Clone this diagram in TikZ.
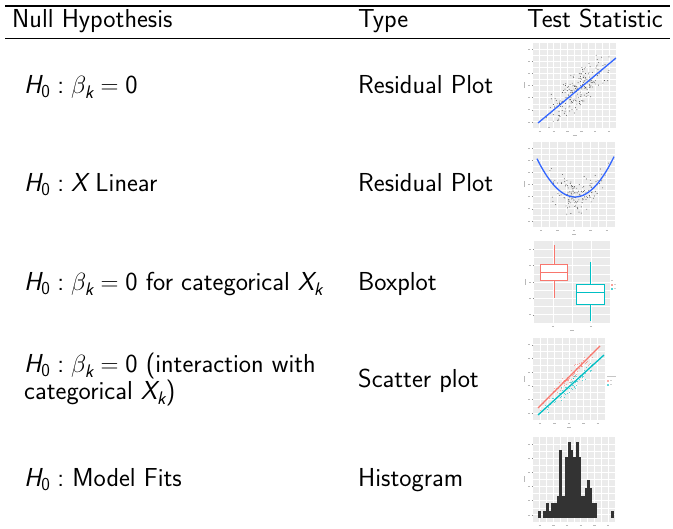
\documentclass[tikz,border=0pt]{standalone}
\usepackage{amsmath}
\usepackage{fontspec}
\begin{document}
\definecolor{panelgray}{HTML}{EBEBEB}
\definecolor{ggred}{HTML}{F8766D}
\definecolor{ggcyan}{HTML}{00BFC4}
\definecolor{ggblue}{HTML}{3366FF}
\definecolor{ggbar}{HTML}{333333}
\definecolor{axisgray}{HTML}{8A8A8A}
\newcommand\Hnull{\textit{H}_{\text{0}}\mathrel{\text{:}}}
\newcommand\bk{\beta_{\textit{k}}}
\newcommand\Xk{\textit{X}_{\textit{k}}}
% ggplot-style panel: #1 x0, #2 y0, #3 x1, #4 y1, #5 columns, #6 rows
\newcommand\ggpanel[6]{%
  \fill[panelgray] (#1,#2) rectangle (#3,#4);
  \pgfmathsetmacro\gdx{(#3-#1)/#5}
  \pgfmathsetmacro\gdy{(#4-#2)/#6}
  \foreach \k in {1,...,#5}{
    \draw[white,line width=0.4pt] ({#1+(\k-1)*\gdx+\gdx},#2) -- ++(0,{#4-#2});
    \draw[white,line width=0.9pt] ({#1+(\k-0.5)*\gdx},#2) -- ++(0,{#4-#2});
    \draw[axisgray,line width=0.5pt] ({#1+(\k-0.5)*\gdx},#4) -- ++(0,1.5);
    \draw[axisgray!60,line width=0.8pt] ({#1+(\k-0.5)*\gdx-1.2},{#4+3.5}) -- ++(2.4,0);
  }
  \foreach \k in {1,...,#6}{
    \draw[white,line width=0.4pt] (#1,{#2+(\k-1)*\gdy+\gdy}) -- ++({#3-#1},0);
    \draw[white,line width=0.9pt] (#1,{#2+(\k-0.5)*\gdy}) -- ++({#3-#1},0);
    \draw[axisgray,line width=0.5pt] (#1,{#2+(\k-0.5)*\gdy}) -- ++(-1.5,0);
    \draw[axisgray!60,line width=0.8pt] ({#1-5},{#2+(\k-0.5)*\gdy}) -- ++(2.4,0);
  }
  \draw[axisgray!60,line width=0.8pt] ({#1-9},{(#2+#4)/2-3}) -- ++(0,6);
  \draw[axisgray!60,line width=0.8pt] ({(#1+#3)/2-2},{#4+7}) -- ++(4,0);
}
\begin{tikzpicture}[x=1pt,y=-1pt,
  txt/.style={font=\sffamily\fontsize{26}{30}\selectfont,inner sep=0pt,anchor=base west},
  rulethick/.style={line width=1.3pt},
  rulethin/.style={line width=0.9pt},
  dot/.style={fill=black,opacity=0.75}]
\useasboundingbox (0,0) rectangle (673,529);

% table rules
\coordinate (tl) at (5,6);
\coordinate (tr) at (670,6);
\coordinate (ml) at (5,38);
\coordinate (mr) at (670,38);
\draw[rulethick] (tl) -- (tr);
\draw[rulethin] (ml) -- (mr);

% header
\node[txt] (h1) at (12,28) {Null Hypothesis};
\node[txt] (h2) at (358,28) {Type};
\node[txt] (h3) at (527,28) {Test Statistic};

% rows: hypotheses
\node[txt] (r1a) at (24,94) {$\Hnull \bk = \text{0}$};
\node[txt] (r2a) at (24,192) {$\Hnull \textit{X}$ Linear};
\node[txt] (r3a) at (24,291) {$\Hnull \bk = \text{0}$ for categorical $\Xk$};
\node[txt] (r4a) at (24,373) {$\Hnull \bk = \text{0}$ (interaction with};
\node[txt] (r4b) at (24,400) {categorical $\Xk$)};
\node[txt] (r5a) at (24,487) {$\Hnull$ Model Fits};

% rows: types
\node[txt] (r1b) at (358,94) {Residual Plot};
\node[txt] (r2b) at (358,192) {Residual Plot};
\node[txt] (r3b) at (358,291) {Boxplot};
\node[txt] (r4c) at (358,388) {Scatter plot};
\node[txt] (r5b) at (358,487) {Histogram};

% ---- plot 1: residuals vs predictor, linear trend
\ggpanel{533}{43}{616}{128}{6}{7}
\pgfmathsetseed{11}
\begin{scope}
\clip (533,43) rectangle (616,128);
\foreach \i in {1,...,200}{
  \pgfmathsetmacro\px{578+17*(rand+rand)}
  \pgfmathsetmacro\py{123-(\px-538)*0.83+19*(rand+rand)/1.6}
  \fill[dot] (\px,\py) circle (0.45);
}
\draw[ggblue,line width=1.3pt] (538,123) -- (616,58);
\end{scope}

% ---- plot 2: residuals vs predictor, curved trend
\ggpanel{533}{142}{615}{227}{5}{7}
\pgfmathsetseed{23}
\begin{scope}
\clip (533,142) rectangle (615,227);
\foreach \i in {1,...,140}{
  \pgfmathsetmacro\px{577+17*(rand+rand)}
  \pgfmathsetmacro\py{197-0.0265*(\px-575)^2+16*(rand+rand)/1.6}
  \fill[dot] (\px,\py) circle (0.45);
}
\draw[ggblue,line width=1.3pt,domain=537:614,samples=40,smooth]
  plot (\x,{197-0.0265*(\x-575)^2});
\end{scope}

% ---- plot 3: boxplots by group
\ggpanel{534}{241}{610}{323}{2}{5}
\draw[ggred,line width=0.9pt] (554,245) -- (554,264) (554,280) -- (554,298);
\draw[ggred,line width=0.9pt,fill=white] (540,264) rectangle (567,280);
\draw[ggred,line width=0.9pt] (540,272) -- (567,272);
\draw[ggcyan,line width=0.9pt] (590,262) -- (590,284) (590,304) -- (590,321);
\draw[ggcyan,line width=0.9pt,fill=white] (576,284) rectangle (604,304);
\draw[ggcyan,line width=0.9pt] (576,292) -- (604,292);
% legend
\fill[axisgray!50] (611,280) rectangle (613,281);
\fill[ggred!70] (611,284) rectangle (613,286);
\fill[ggcyan!70] (611,288) rectangle (613,290);
\fill[axisgray!40] (614,284.5) rectangle (616,285.5);
\fill[axisgray!40] (614,288.5) rectangle (616,289.5);

% ---- plot 4: scatter with two group lines
\ggpanel{533}{338}{605}{420}{5}{6}
\pgfmathsetseed{5}
\begin{scope}
\clip (533,338) rectangle (605,420);
\foreach \i in {1,...,70}{
  \pgfmathsetmacro\px{round(569+15*(rand+rand))}
  \pgfmathsetmacro\py{408-(\px-538)+4*(rand+rand)}
  \fill[ggred,opacity=0.6] (\px,\py) rectangle ++(0.9,0.9);
  \pgfmathsetmacro\qx{round(571+15*(rand+rand))}
  \pgfmathsetmacro\qy{415-(\qx-538)*0.91+4*(rand+rand)}
  \fill[ggcyan,opacity=0.6] (\qx,\qy) rectangle ++(0.9,0.9);
}
\draw[ggred,line width=1.3pt] (538,408) -- (600,346);
\draw[ggcyan,line width=1.3pt] (538,415) -- (604,355);
\end{scope}
% legend
\fill[axisgray!50] (607,376) rectangle (616,377);
\fill[ggred!60] (607,380) rectangle (609,382);
\fill[ggcyan!60] (607,384) rectangle (609,386);
\fill[axisgray!40] (610,380.5) rectangle (612,381.5);
\fill[axisgray!40] (610,384.5) rectangle (612,385.5);

% ---- plot 5: histogram
\ggpanel{533}{437}{615}{522}{6}{6}
\foreach \xa/\xb/\top in {
  538/540.7/237, 543.3/546/237, 546/549/213, 549/551.3/237,
  551.3/556.7/213, 556.7/559/192, 559/561.7/53, 561.7/564.7/192,
  564.7/568/75, 568/570.7/30, 570.7/573.3/53, 573.3/576.3/75,
  576.3/579/30, 579/581.3/75, 581.3/584.7/192, 584.7/587/168,
  587/589.7/145, 589.7/592/168, 592/597.3/213, 610.7/613.7/237}{
  \fill[ggbar] (\xa,{432+\top/3}) rectangle (\xb,518.5);
}
\end{tikzpicture}
\end{document}
